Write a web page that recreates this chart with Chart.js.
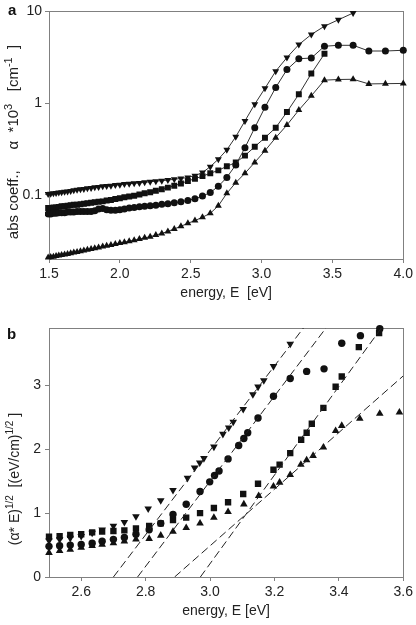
<!DOCTYPE html>
<html>
<head>
<meta charset="utf-8">
<script src="https://cdn.jsdelivr.net/npm/chart.js@4.4.1/dist/chart.umd.min.js"></script>
<style>
  html, body { margin: 0; padding: 0; background: #fff; }
  #wrap { position: relative; width: 416px; height: 625px; }
  canvas { position: absolute; left: 0; }
  #chartA { top: 0; }
  #chartB { top: 310px; }
</style>
</head>
<body>
<div id="wrap">
  <canvas id="chartA" width="416" height="310"></canvas>
  <canvas id="chartB" width="416" height="315"></canvas>
</div>
<script>
// panel a: photon energy grid (eV) and absorption coefficient (x10^3 cm^-1)
const energyA = [1.494, 1.512, 1.531, 1.550, 1.569, 1.589, 1.610, 1.631, 1.653, 1.675,
  1.698, 1.722, 1.746, 1.771, 1.797, 1.823, 1.850, 1.879, 1.907, 1.937,
  1.968, 2.000, 2.032, 2.066, 2.101, 2.138, 2.175, 2.214, 2.254, 2.296,
  2.339, 2.384, 2.431, 2.480, 2.530, 2.583, 2.638, 2.695, 2.755, 2.818,
  2.883, 2.952, 3.024, 3.100, 3.179, 3.263, 3.351, 3.444, 3.542, 3.646,
  3.757, 3.874, 4.000];

const downA = [0.102, 0.103, 0.104, 0.105, 0.106, 0.107, 0.108, 0.109, 0.110, 0.112,
  0.114, 0.115, 0.116, 0.118, 0.119, 0.121, 0.122, 0.124, 0.125, 0.126,
  0.128, 0.129, 0.131, 0.132, 0.134, 0.135, 0.137, 0.139, 0.141, 0.143,
  0.145, 0.148, 0.151, 0.155, 0.162, 0.175, 0.203, 0.245, 0.31, 0.43,
  0.64, 0.975, 1.45, 2.23, 3.14, 4.35, 5.6, 6.9, 8.1, 9.6,
  null, null, null];

const circA = [0.062, 0.062, 0.063, 0.063, 0.064, 0.064, 0.064, 0.065, 0.065, 0.065,
  0.066, 0.066, 0.066, 0.066, 0.066, 0.067, 0.070, 0.071, 0.069, 0.068,
  0.068, 0.069, 0.070, 0.072, 0.073, 0.074, 0.075, 0.076, 0.077, 0.079,
  0.080, 0.082, 0.084, 0.087, 0.091, 0.097, 0.106, 0.124, 0.155, 0.212,
  0.327, 0.54, 0.90, 1.48, 2.32, 3.05, 3.10, 4.17, 4.27, 4.27,
  3.70, 3.70, 3.77];

const sqA = [0.072, 0.072, 0.073, 0.073, 0.074, 0.075, 0.075, 0.076, 0.077, 0.078,
  0.078, 0.079, 0.080, 0.081, 0.082, 0.083, 0.084, 0.085, 0.087, 0.088,
  0.090, 0.092, 0.094, 0.096, 0.098, 0.101, 0.104, 0.107, 0.111, 0.115,
  0.120, 0.126, 0.133, 0.142, 0.150, 0.160, 0.172, 0.185, 0.205, 0.225,
  0.268, 0.335, 0.42, 0.54, 0.80, 1.25, 2.10, 3.45, null, null,
  null, null, null];

const upA = [0.0208, 0.0210, 0.0212, 0.0215, 0.0218, 0.0221, 0.0224, 0.0227, 0.0231, 0.0235,
  0.0239, 0.0243, 0.0247, 0.0252, 0.0257, 0.0262, 0.0267, 0.0273, 0.0279, 0.0285,
  0.0291, 0.0298, 0.0305, 0.0313, 0.0321, 0.0330, 0.0340, 0.0350, 0.0365, 0.0380,
  0.0400, 0.0425, 0.0455, 0.0490, 0.0525, 0.057, 0.063, 0.076, 0.104, 0.136,
  0.172, 0.226, 0.303, 0.42, 0.577, 0.84, 1.20, 1.78, 1.81, 1.82,
  1.62, 1.63, 1.64];

// panel b: (alpha*E)^1/2 against energy
const downBx = [2.500, 2.533, 2.566, 2.600, 2.634, 2.665, 2.700, 2.734, 2.770, 2.808,
  2.847, 2.885, 2.930, 2.952, 2.968, 2.981, 3.012, 3.040, 3.058, 3.072,
  3.103, 3.133, 3.149, 3.167, 3.197, 3.249];
const downBy = [0.57, 0.59, 0.61, 0.64, 0.69, 0.74, 0.80, 0.86, 0.95, 1.07,
  1.20, 1.36, 1.55, 1.71, 1.79, 1.86, 2.04, 2.24, 2.34, 2.43,
  2.63, 2.86, 2.98, 3.08, 3.30, 3.65];

const circBx = [2.500, 2.533, 2.566, 2.600, 2.634, 2.665, 2.700, 2.734, 2.770, 2.811,
  2.847, 2.885, 2.926, 2.969, 2.999, 3.014, 3.028, 3.056, 3.089, 3.105,
  3.117, 3.149, 3.197, 3.249, 3.300, 3.354, 3.409, 3.467, 3.527];
const circBy = [0.48, 0.49, 0.50, 0.51, 0.53, 0.56, 0.59, 0.62, 0.67, 0.74,
  0.84, 0.98, 1.14, 1.34, 1.49, 1.59, 1.66, 1.85, 2.06, 2.17,
  2.26, 2.49, 2.83, 3.11, 3.22, 3.26, 3.66, 3.78, 3.89];

const sqBx = [2.500, 2.533, 2.566, 2.600, 2.634, 2.665, 2.700, 2.734, 2.770, 2.811,
  2.847, 2.885, 2.926, 2.969, 3.012, 3.056, 3.103, 3.149, 3.197, 3.216,
  3.249, 3.283, 3.300, 3.316, 3.352, 3.390, 3.409, 3.462, 3.525];
const sqBy = [0.63, 0.64, 0.66, 0.67, 0.70, 0.71, 0.72, 0.73, 0.76, 0.80,
  0.84, 0.89, 0.93, 1.00, 1.08, 1.17, 1.30, 1.46, 1.68, 1.76,
  1.94, 2.15, 2.26, 2.40, 2.65, 2.98, 3.14, 3.60, 3.82];

const upBx = [2.500, 2.533, 2.566, 2.600, 2.634, 2.665, 2.700, 2.734, 2.770, 2.811,
  2.847, 2.885, 2.926, 2.969, 3.012, 3.056, 3.105, 3.151, 3.197, 3.216,
  3.249, 3.282, 3.300, 3.320, 3.352, 3.390, 3.409, 3.465, 3.527, 3.588];
const upBy = [0.38, 0.41, 0.43, 0.46, 0.49, 0.51, 0.53, 0.56, 0.59, 0.60,
  0.65, 0.71, 0.77, 0.84, 0.93, 1.02, 1.14, 1.27, 1.42, 1.48,
  1.60, 1.76, 1.83, 1.90, 2.03, 2.29, 2.37, 2.48, 2.56, 2.58];

// straight-line fits (end points)
const fitDownX = [2.700, 3.290], fitDownY = [0, 3.9];
const fitCircX = [2.775, 3.360], fitCircY = [0, 3.9];
const fitSqX = [2.970, 3.532], fitSqY = [0, 3.9];
const fitUpX = [2.890, 3.600], fitUpY = [0, 3.15];

const ticksAx = [1.5, 2.0, 2.5, 3.0, 3.5, 4.0];
const ticksAy = [0.1, 1, 10];
const ticksBx = [2.6, 2.8, 3.0, 3.2, 3.4, 3.6];
const ticksBy = [0, 1, 2, 3];

const FONT = '"Liberation Sans", Arial, Helvetica, sans-serif';
Chart.defaults.font.family = FONT;
Chart.defaults.font.size = 14;
Chart.defaults.color = '#222';

const pts = (xs, ys) => xs.map((x, i) => ({ x: x, y: ys[i] }));

function marks(data, style, rot, r, line) {
  return {
    data: data,
    pointStyle: style,
    rotation: rot,
    pointRadius: r,
    pointHoverRadius: r,
    pointBackgroundColor: '#111',
    pointBorderColor: '#111',
    pointBorderWidth: 0,
    borderColor: '#333',
    borderWidth: line ? 1 : 0,
    showLine: line,
    spanGaps: false,
    clip: 4
  };
}

function fitLine(xs, ys) {
  return {
    data: pts(xs, ys),
    showLine: true,
    borderColor: '#222',
    borderWidth: 1,
    borderDash: [8, 4],
    pointRadius: 0,
    pointHoverRadius: 0
  };
}

// y titles with superscripts, drawn on the canvas
function drawRich(ctx, parts, x, y, size) {
  ctx.save();
  ctx.translate(x, y);
  ctx.rotate(-Math.PI / 2);
  ctx.textBaseline = 'middle';
  ctx.fillStyle = '#222';
  const fonts = parts.map(p => (p[1] ? Math.round(size * 0.72) : size) + 'px ' + FONT);
  let total = 0;
  const widths = parts.map((p, i) => {
    ctx.font = fonts[i];
    const w = ctx.measureText(p[0]).width;
    total += w;
    return w;
  });
  let cx = -total / 2;
  parts.forEach((p, i) => {
    ctx.font = fonts[i];
    ctx.fillText(p[0], cx, p[1] ? -size * 0.32 : 0);
    cx += widths[i];
  });
  ctx.restore();
}

const decor = {
  id: 'decor',
  beforeDatasetsDraw(chart) {
    const { ctx, chartArea: a } = chart;
    ctx.save();
    ctx.strokeStyle = '#808080';
    ctx.lineWidth = 1;
    ctx.strokeRect(Math.round(a.left) + 0.5, Math.round(a.top) + 0.5,
      Math.round(a.right - a.left), Math.round(a.bottom - a.top));
    ctx.restore();
  },
  afterDraw(chart, args, o) {
    const ctx = chart.ctx;
    drawRich(ctx, o.yTitle, o.tx, o.ty, o.size);
    ctx.save();
    ctx.font = 'bold 15px ' + FONT;
    ctx.fillStyle = '#111';
    ctx.textBaseline = 'middle';
    ctx.fillText(o.letter, o.lx, o.ly);
    ctx.restore();
  }
};

function axisX(min, max, ticks, height, title, titlePad) {
  return {
    type: 'linear', min: min, max: max,
    afterBuildTicks: s => { s.ticks = ticks.map(v => ({ value: v })); },
    afterFit: s => { s.height = height; },
    ticks: { callback: v => v.toFixed(1), padding: 3, maxRotation: 0, autoSkip: false, color: '#222' },
    grid: { display: true, drawOnChartArea: false, drawTicks: true, tickLength: 4, color: '#808080' },
    border: { display: false },
    title: { display: true, text: title, padding: { top: 0, bottom: titlePad }, color: '#222' }
  };
}

function axisY(type, min, max, ticks, pad) {
  return {
    type: type, min: min, max: max,
    afterBuildTicks: s => { s.ticks = ticks.map(v => ({ value: v })); },
    afterFit: s => { s.width = 49; },
    ticks: { callback: v => String(v), padding: pad, autoSkip: false, color: '#222' },
    grid: { display: true, drawOnChartArea: false, drawTicks: true, tickLength: 4, color: '#808080' },
    border: { display: false }
  };
}

new Chart(document.getElementById('chartA'), {
  type: 'scatter',
  data: {
    datasets: [
      marks(pts(energyA, downA), 'triangle', 180, 4, true),
      marks(pts(energyA, circA), 'circle', 0, 3.5, true),
      marks(pts(energyA, sqA), 'rect', 0, 4.2, true),
      marks(pts(energyA, upA), 'triangle', 0, 4, true)
    ]
  },
  options: {
    responsive: false,
    animation: false,
    layout: { padding: { top: 11, right: 10, left: 0, bottom: 0 } },
    scales: {
      x: axisX(1.5, 4.0, ticksAx, 51, 'energy, E  [eV]', 8),
      y: axisY('logarithmic', 0.02, 10, ticksAy, 3)
    },
    plugins: {
      legend: { display: false },
      tooltip: { enabled: false },
      decor: {
        yTitle: [['abs coeff.,     α  *10', 0], ['3', 1], ['   [cm', 0], ['-1', 1], ['  ]', 0]],
        size: 15, tx: 14, ty: 142, letter: 'a', lx: 8, ly: 11
      }
    }
  },
  plugins: [decor]
});

new Chart(document.getElementById('chartB'), {
  type: 'scatter',
  data: {
    datasets: [
      fitLine(fitDownX, fitDownY),
      fitLine(fitCircX, fitCircY),
      fitLine(fitSqX, fitSqY),
      fitLine(fitUpX, fitUpY),
      marks(pts(downBx, downBy), 'triangle', 180, 4.4, false),
      marks(pts(circBx, circBy), 'circle', 0, 3.7, false),
      marks(pts(sqBx, sqBy), 'rect', 0, 4.5, false),
      marks(pts(upBx, upBy), 'triangle', 0, 4.4, false)
    ]
  },
  options: {
    responsive: false,
    animation: false,
    layout: { padding: { top: 18, right: 10, left: 0, bottom: 0 } },
    scales: {
      x: axisX(2.5, 3.6, ticksBx, 48, 'energy, E [eV]', 5),
      y: axisY('linear', 0, 3.9, ticksBy, 4)
    },
    plugins: {
      legend: { display: false },
      tooltip: { enabled: false },
      decor: {
        yTitle: [['(α* E)', 0], ['1/2', 1], ['  [(eV/cm)', 0], ['1/2', 1], [' ]', 0]],
        size: 14, tx: 15, ty: 169, letter: 'b', lx: 7, ly: 25
      }
    }
  },
  plugins: [decor]
});
</script>
</body>
</html>
